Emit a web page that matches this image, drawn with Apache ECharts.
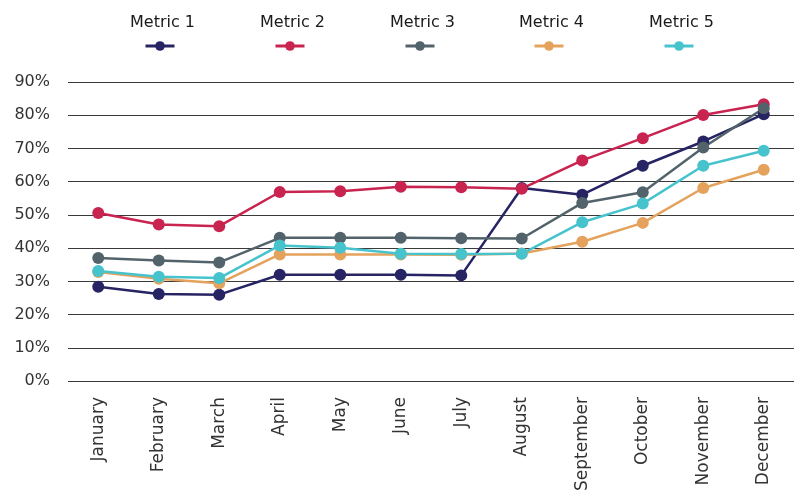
<!DOCTYPE html>
<html>
<head>
<meta charset="utf-8">
<script src="https://cdn.jsdelivr.net/npm/echarts@6/dist/echarts.min.js"></script>
<style>
  html, body { margin: 0; padding: 0; background: #fff; }
  #chart { width: 794px; height: 494px; }
</style>
</head>
<body>
<div id="chart"></div>
<script>
// categories
const months = ['January', 'February', 'March', 'April', 'May', 'June',
  'July', 'August', 'September', 'October', 'November', 'December']

// series names / values (percent)
const names = ['Metric 1', 'Metric 2', 'Metric 3', 'Metric 4', 'Metric 5']
const metric1 = [28.4, 26.2, 26.0, 32.0, 32.0, 32.0, 31.8, 58.1, 56.1, 64.8, 72.1, 80.3]
const metric2 = [50.6, 47.1, 46.6, 56.9, 57.1, 58.5, 58.3, 57.9, 66.4, 73.1, 80.1, 83.3]
const metric3 = [37.0, 36.3, 35.7, 43.1, 43.1, 43.1, 43.0, 42.9, 53.6, 56.8, 70.3, 82.1]
const metric4 = [32.8, 30.8, 29.4, 38.1, 38.1, 38.1, 38.0, 38.4, 41.9, 47.6, 58.1, 63.6]
const metric5 = [33.1, 31.4, 31.0, 40.8, 40.1, 38.3, 38.2, 38.3, 47.8, 53.4, 64.8, 69.3]

// y tick labels
const yTicks = [0, 10, 20, 30, 40, 50, 60, 70, 80, 90]

const colors = ['#262463', '#c92350', '#53636b', '#e4a25c', '#47c3cd']
const legendCenters = [158, 288, 418, 547, 677]
const font = 'DejaVu Sans'

const chart = echarts.init(document.getElementById('chart'))

const allData = [metric1, metric2, metric3, metric4, metric5]

// two legends per series: text on top, marker below it
const legends = []
names.forEach((n, i) => {
  legends.push({
    data: [n],
    left: legendCenters[i] - 38,
    top: 10,
    icon: 'none',
    itemWidth: 0,
    itemGap: 0,
    textStyle: { fontFamily: font, fontSize: 16, color: '#1a1a1a' },
    selectedMode: false
  })
  legends.push({
    data: [n],
    left: legendCenters[i] - 19,
    top: 35,
    itemWidth: 29,
    itemHeight: 12,
    lineStyle: { width: 3 },
    formatter: () => '',
    selectedMode: false
  })
})

chart.setOption({
  animation: false,
  color: colors,
  legend: legends,
  grid: { left: 68, top: 82, width: 740, bottom: 112, containLabel: false },
  xAxis: {
    type: 'category',
    data: months,
    boundaryGap: true,
    axisLine: { show: false },
    axisTick: { show: false },
    axisLabel: {
      rotate: 90,
      interval: 0,
      margin: 16,
      fontFamily: font,
      fontSize: 17,
      color: '#333'
    }
  },
  yAxis: {
    type: 'value',
    min: yTicks[0],
    max: yTicks[yTicks.length - 1],
    interval: 10,
    axisLine: { show: false },
    axisTick: { show: false },
    axisLabel: {
      margin: 18,
      fontFamily: font,
      fontSize: 16,
      color: '#333',
      formatter: v => v + '%'
    },
    splitLine: { lineStyle: { color: '#3a3a3a', width: 1.2 } }
  },
  series: allData.map((d, i) => ({
    name: names[i],
    type: 'line',
    data: d,
    symbol: 'circle',
    symbolSize: 12,
    lineStyle: { width: 2.5, color: colors[i] },
    itemStyle: { color: colors[i] }
  }))
})
</script>
</body>
</html>
